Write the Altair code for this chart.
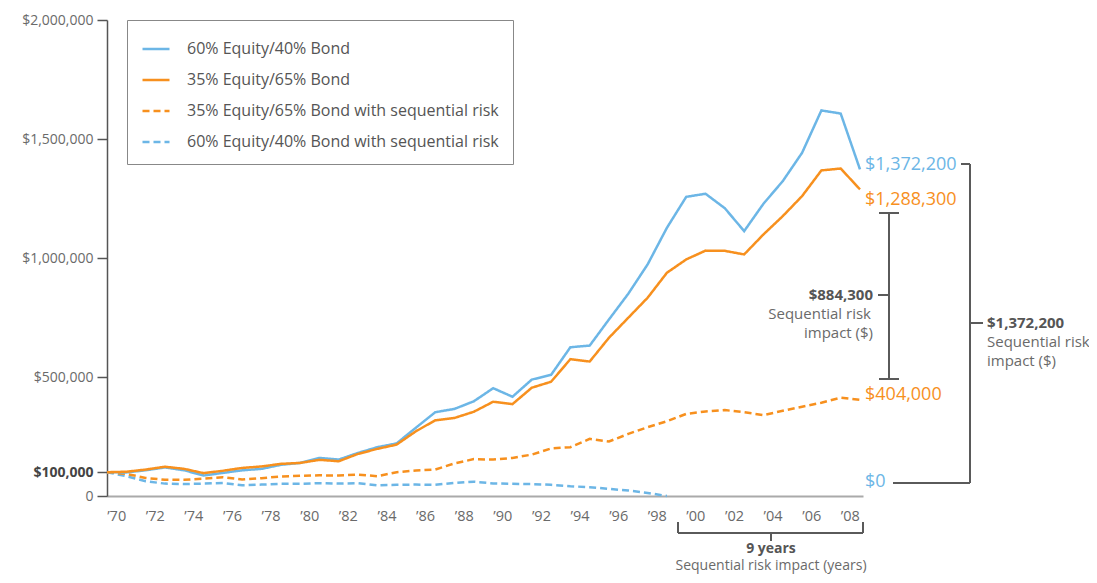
import altair as alt
import pandas as pd

# ---------------- data ----------------
years = list(range(1970, 2010))  # 1970 = starting value, then each year-end

eq60_bond40 = [100000, 99000, 108000, 120000, 108000, 86000, 97000, 108000, 114000, 131000,
               139000, 160000, 153000, 181000, 205000, 221000, 287000, 352000, 366000, 398000,
               453000, 417000, 489000, 509000, 625000, 632000, 742000, 850000, 973000, 1127000,
               1257000, 1270000, 1209000, 1113000, 1228000, 1323000, 1442000, 1620000, 1607000, 1372200]
eq35_bond65 = [100000, 102000, 111000, 123000, 114000, 96000, 106000, 118000, 124000, 135000,
               139000, 152000, 146000, 177000, 198000, 216000, 272000, 318000, 328000, 354000,
               396000, 386000, 455000, 480000, 575000, 565000, 665000, 749000, 833000, 938000,
               994000, 1031000, 1030000, 1015000, 1099000, 1176000, 1260000, 1368000, 1376000, 1288300]
eq35_seq = [100000, 93000, 76000, 68000, 68000, 73000, 79000, 69000, 75000, 82000,
            85000, 87000, 86000, 90000, 83000, 100000, 107000, 111000, 137000, 155000,
            153000, 160000, 174000, 200000, 205000, 240000, 229000, 261000, 289000, 314000,
            345000, 355000, 361000, 352000, 340000, 358000, 375000, 392000, 413000, 404000]
eq60_seq = [100000, 83000, 62000, 52000, 50000, 52000, 55000, 45000, 48000, 51000,
            51000, 54000, 52000, 54000, 45000, 47000, 48000, 47000, 55000, 60000,
            53000, 51000, 50000, 47000, 41000, 37000, 30000, 23000, 13000, 0,
            None, None, None, None, None, None, None, None, None, None]

series_names = ["60% Equity/40% Bond", "35% Equity/65% Bond",
                "35% Equity/65% Bond with sequential risk",
                "60% Equity/40% Bond with sequential risk"]
series_colors = ["#6cb6e6", "#f7901e", "#f7901e", "#6cb6e6"]
series_dash = [[1, 0], [1, 0], [7, 4], [7, 4]]

tick_years = list(range(1970, 2010, 2))
tick_labels = ["\u2019" + str(y)[2:] for y in tick_years]
y_ticks = [0, 100000, 500000, 1000000, 1500000, 2000000]

end_labels = ["$1,372,200", "$1,288,300", "$404,000", "$0"]
end_colors = ["#6cb6e6", "#f7901e", "#f7901e", "#6cb6e6"]

# draw order: dashed first, solid orange last
draw_order = [(series_names[3], eq60_seq), (series_names[2], eq35_seq),
              (series_names[0], eq60_bond40), (series_names[1], eq35_bond65)]
rows = []
for name, vals in draw_order:
    for t, v in zip(years, vals):
        if v is not None:
            rows.append({"t": t, "value": v, "series": name})
df = pd.DataFrame(rows)

# ---------------- layout helpers (page px -> data units) ----------------
W, H = 756, 476
X0, Y0 = 107, 20
TOTAL_W, TOTAL_H = 1081, 566
XMAX = 1970 + W / (753 / 39)


def tx(px):
    return 1970 + (px - X0) * 39 / 753


def ty(py):
    return (Y0 + H - py) / H * 2000000


FONT = "Open Sans"

xscale = alt.Scale(domain=[1970, XMAX], nice=False, zero=False)
yscale = alt.Scale(domain=[0, 2000000], nice=False)

lines = alt.Chart(df).mark_line(strokeWidth=2.5).encode(
    x=alt.X("t:Q", scale=xscale, axis=alt.Axis(
        labels=False, ticks=False, grid=False, domainColor="#aaaaaa", domainWidth=2, title=None)),
    y=alt.Y("value:Q", scale=yscale, axis=alt.Axis(
        values=y_ticks,
        labelExpr="datum.value == 0 ? '0' : '$' + format(datum.value, ',')",
        grid=False, tickSize=10, tickColor="#555555", tickWidth=1.5,
        domainColor="#555555", domainWidth=1.5, labelFontSize=14,
        labelColor=alt.condition("datum.value == 100000", alt.value("#444444"), alt.value("#6a6a6a")),
        labelFontWeight=alt.condition("datum.value == 100000", alt.value("bold"), alt.value("normal")),
        labelPadding=4, title=None, labelFont=FONT)),
    color=alt.Color("series:N", scale=alt.Scale(domain=series_names, range=series_colors),
                    legend=alt.Legend(orient="none", legendX=20, legendY=0, title=None,
                                      strokeColor="#888888", fillColor="white", padding=14,
                                      rowPadding=8, symbolType="stroke", symbolSize=729,
                                      symbolStrokeWidth=2.5, labelFontSize=16, labelColor="#555555",
                                      labelFont=FONT, labelOffset=16, labelLimit=420)),
    strokeDash=alt.StrokeDash("series:N", scale=alt.Scale(domain=series_names, range=series_dash),
                              legend=alt.Legend(orient="none", legendX=20, legendY=0, title=None)),
)

# x tick labels, centred in each year's band
xlab_df = pd.DataFrame({"t": [y + 0.5 for y in tick_years], "label": tick_labels})
xlabels = alt.Chart(xlab_df).mark_text(baseline="middle", fontSize=14.5, font=FONT,
                                       color="#6a6a6a").encode(
    x="t:Q", y=alt.value(H + 21), text="label:N")

# end-value labels
end_df = pd.DataFrame({
    "t": [tx(865)] * 4,
    "value": [ty(165), ty(200), ty(395), ty(482)],
    "label": end_labels,
    "c": end_colors,
})
end_text = alt.Chart(end_df).mark_text(align="left", baseline="middle", fontSize=18, font=FONT).encode(
    x="t:Q", y="value:Q", text="label:N", color=alt.Color("c:N", scale=None))

# bracket / I-beam rules
segs = [
    # I-beam
    (889, 213, 889, 379), (879, 213, 899, 213), (879, 379, 899, 379), (878, 295, 889, 295),
    # right bracket
    (970, 164, 970, 483), (961, 164, 970, 164), (893, 483, 970, 483), (970, 323, 983, 323),
    # bottom bracket
    (678, 533, 863, 533), (678, 522, 678, 533), (863, 522, 863, 533), (771, 533, 771, 541),
]
seg_df = pd.DataFrame({
    "t": [tx(s[0]) for s in segs], "t2": [tx(s[2]) for s in segs],
    "value": [ty(s[1]) for s in segs], "value2": [ty(s[3]) for s in segs],
})
rules = alt.Chart(seg_df).mark_rule(color="#5a5a5a", strokeWidth=2).encode(
    x="t:Q", x2="t2:Q", y="value:Q", y2="value2:Q")


def text_layer(items, align, weight, color, size):
    d = pd.DataFrame({"t": [tx(i[0]) for i in items], "value": [ty(i[1]) for i in items],
                      "label": [i[2] for i in items]})
    return alt.Chart(d).mark_text(align=align, baseline="middle", fontSize=size, font=FONT,
                                  fontWeight=weight, color=color).encode(
        x="t:Q", y="value:Q", text="label:N")


t1 = text_layer([(873, 295, "$884,300")], "right", "bold", "#555555", 15)
t2 = text_layer([(871, 314, "Sequential risk"), (873, 333, "impact ($)")], "right", "normal", "#6a6a6a", 15)
t3 = text_layer([(987, 323, "$1,372,200")], "left", "bold", "#555555", 15)
t4 = text_layer([(987, 342, "Sequential risk"), (987, 361, "impact ($)")], "left", "normal", "#6a6a6a", 15)
t5 = text_layer([(771, 549, "9 years")], "center", "bold", "#555555", 14)
t6 = text_layer([(771, 566, "Sequential risk impact (years)")], "center", "normal", "#6a6a6a", 14)

chart = alt.layer(lines, xlabels, rules, end_text, t1, t2, t3, t4, t5, t6).properties(
    width=W, height=H,
    autosize=alt.AutoSizeParams(type="none"),
    padding={"left": X0 - 8, "top": Y0 - 8, "right": TOTAL_W - (X0 - 8) - W,
             "bottom": TOTAL_H - (Y0 - 8) - H},
).configure(font=FONT).configure_view(stroke=None)

chart.save("out.html", embed_options={"renderer": "svg", "actions": False})
